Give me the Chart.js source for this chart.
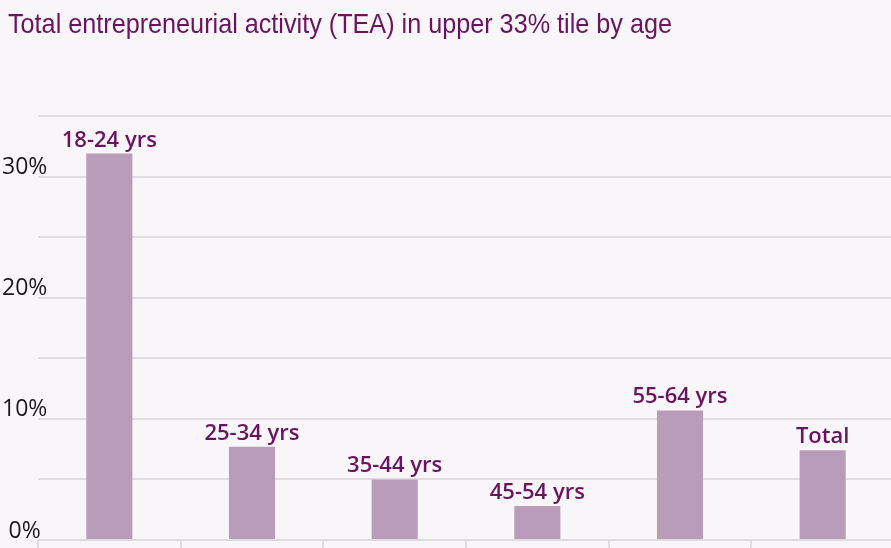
<!DOCTYPE html>
<html>
<head>
<meta charset="utf-8">
<script src="https://cdn.jsdelivr.net/npm/chart.js@4/dist/chart.umd.min.js"></script>
<style>
  html, body { margin: 0; padding: 0; background: #f8f6f8; overflow: hidden; }
  #wrap { width: 894px; height: 548px; position: relative; }
</style>
</head>
<body>
<div id="wrap"><canvas id="chart"></canvas></div>
<script>
// Chart data
var categories = ['18-24 yrs', '25-34 yrs', '35-44 yrs', '45-54 yrs', '55-64 yrs', 'Total'];
var teaValues = [31.9, 7.7, 5.0, 2.8, 10.7, 7.4];
var yTicksShown = [0, 10, 20, 30];
var titleText = 'Total entrepreneurial activity (TEA) in upper 33% tile by age';

var purple = '#6b1261';
var gridGray = '#dfdbdf';

// Narrow-looking title: no condensed face installed, so squeeze regular text a bit
var narrowTitle = {
  id: 'narrowTitle',
  afterDraw: function (chart) {
    var ctx = chart.ctx;
    ctx.save();
    ctx.font = '28px "Liberation Sans", Arial, sans-serif';
    ctx.fillStyle = purple;
    ctx.textAlign = 'left';
    ctx.textBaseline = 'alphabetic';
    ctx.translate(8, 33);
    ctx.scale(0.9, 1);
    ctx.fillText(titleText, 0, 0);
    ctx.restore();
  }
};

// Draw the category name above each bar
var barLabels = {
  id: 'barLabels',
  afterDatasetsDraw: function (chart) {
    var ctx = chart.ctx;
    var meta = chart.getDatasetMeta(0);
    ctx.save();
    ctx.font = '600 22px "Open Sans", sans-serif';
    ctx.fillStyle = purple;
    ctx.textAlign = 'center';
    ctx.textBaseline = 'alphabetic';
    meta.data.forEach(function (bar, i) {
      ctx.fillText(categories[i], bar.x, bar.y - 7);
    });
    ctx.restore();
  }
};

new Chart(document.getElementById('chart').getContext('2d'), {
  type: 'bar',
  data: {
    labels: categories,
    datasets: [{
      data: teaValues,
      backgroundColor: '#b99cba',
      borderWidth: 0,
      barPercentage: 0.323,
      categoryPercentage: 1
    }]
  },
  options: {
    responsive: true,
    maintainAspectRatio: false,
    animation: false,
    layout: { padding: { left: 6, right: 0, top: 116, bottom: 0 } },
    plugins: {
      legend: { display: false },
      tooltip: { enabled: false },
      title: { display: false }
    },
    scales: {
      x: {
        grid: { display: true, drawOnChartArea: false, drawTicks: true, tickLength: 8, color: gridGray, lineWidth: 2 },
        border: { display: false },
        ticks: { display: false }
      },
      y: {
        min: 0,
        max: 35,
        grid: { color: gridGray, lineWidth: 2, drawTicks: false },
        border: { display: false },
        afterFit: function (scale) { scale.width = 32; },
        ticks: {
          stepSize: 5,
          mirror: true,
          padding: -36,
          crossAlign: 'center',
          labelOffset: -9,
          color: '#1a1a1a',
          font: { family: '"Open Sans", sans-serif', size: 23, weight: '500' },
          callback: function (v) { return yTicksShown.indexOf(v) >= 0 ? v + '%' : ''; }
        }
      }
    }
  },
  plugins: [barLabels, narrowTitle]
});
</script>
</body>
</html>
